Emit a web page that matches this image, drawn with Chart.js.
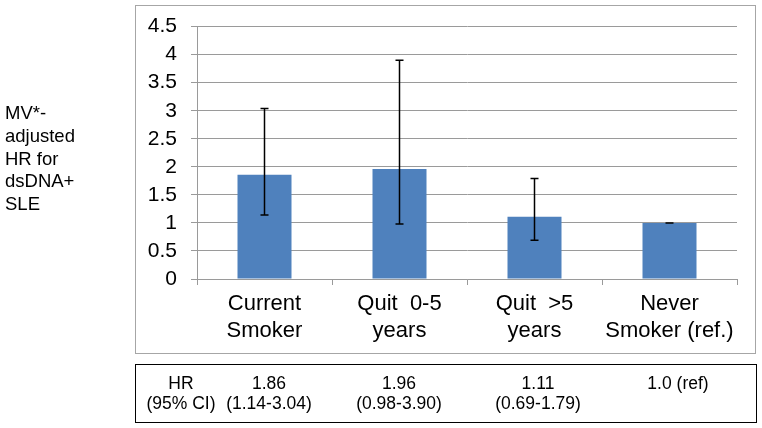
<!DOCTYPE html>
<html>
<head>
<meta charset="utf-8">
<script src="https://cdn.jsdelivr.net/npm/chart.js@4"></script>
<style>
  html, body { margin:0; padding:0; background:#fff; }
  #wrap { position:relative; width:762px; height:428px; font-family:"Liberation Sans", Arial, sans-serif; }
  #c { position:absolute; left:0; top:0; }
  #box { position:absolute; left:135px; top:5px; width:619px; height:347px; border:1px solid #a6a6a6; }
  #ytitle { position:absolute; left:5px; top:102px; font-size:18.5px; line-height:22.8px; color:#000; }
  #table { position:absolute; left:135px; top:364px; width:620px; height:57px; border:1.5px solid #000; }
  .cell { position:absolute; width:150px; margin-left:-75px; text-align:center; font-size:17.5px; line-height:20px; color:#000; white-space:pre; }
</style>
</head>
<body>
<div id="wrap">
  <div id="box"></div>
  <canvas id="c" width="762" height="428"></canvas>
  <div id="ytitle">MV*-<br>adjusted<br>HR for<br>dsDNA+<br>SLE</div>
  <div id="table"></div>
</div>
<script>
const categories = [['Current','Smoker'],['Quit  0-5','years'],['Quit  >5','years'],['Never','Smoker (ref.)']];
const hrValues = [1.86, 1.96, 1.11, 1.0];
const ciLow = [1.14, 0.98, 0.69, 1.0];
const ciHigh = [3.04, 3.90, 1.79, 1.0];
const yMin = 0, yMax = 4.5, yStep = 0.5;
const tableHeader = ['HR', '(95% CI)'];
const tableHR = ['1.86', '1.96', '1.11', '1.0 (ref)'];
const tableCI = ['(1.14-3.04)', '(0.98-3.90)', '(0.69-1.79)', ''];

// table (HTML text)
const tbl = document.getElementById('table');
const colX = [45, 133, 263, 402, 542];
const rows = [[tableHeader[0]].concat(tableHR), [tableHeader[1]].concat(tableCI)];
rows.forEach((row, r) => {
  row.forEach((txt, c) => {
    const d = document.createElement('div');
    d.className = 'cell';
    d.style.left = colX[c] + 'px';
    d.style.top = (8 + r * 20) + 'px';
    d.textContent = txt;
    tbl.appendChild(d);
  });
});

const errorBars = {
  id: 'errorBars',
  afterDatasetsDraw(chart) {
    const ctx = chart.ctx, y = chart.scales.y, meta = chart.getDatasetMeta(0);
    ctx.save();
    ctx.strokeStyle = '#000';
    ctx.lineWidth = 1.5;
    meta.data.forEach((bar, i) => {
      const x = bar.x;
      const yl = y.getPixelForValue(ciLow[i]);
      const yh = y.getPixelForValue(ciHigh[i]);
      ctx.beginPath();
      ctx.moveTo(x, yl); ctx.lineTo(x, yh);
      ctx.moveTo(x - 4, yl); ctx.lineTo(x + 4, yl);
      ctx.moveTo(x - 4, yh); ctx.lineTo(x + 4, yh);
      ctx.stroke();
    });
    ctx.restore();
  }
};

const gridColor = '#9a9a9a';
new Chart(document.getElementById('c'), {
  type: 'bar',
  data: {
    labels: categories,
    datasets: [{
      data: hrValues,
      backgroundColor: '#4f81bd',
      borderWidth: 0,
      barPercentage: 0.4,
      categoryPercentage: 1.0
    }]
  },
  options: {
    responsive: false,
    animation: false,
    devicePixelRatio: 1,
    layout: { padding: { left: 135, right: 25, top: 25, bottom: 79 } },
    plugins: { legend: { display: false }, tooltip: { enabled: false } },
    scales: {
      x: {
        afterFit: s => { s.height = 70; },
        grid: { display: true, drawOnChartArea: false, drawTicks: true, tickLength: 6, color: gridColor, offset: true },
        border: { display: true, color: gridColor, width: 1 },
        ticks: { color: '#000', font: { family: 'Liberation Sans', size: 22 }, padding: 6, maxRotation: 0, autoSkip: false }
      },
      y: {
        min: yMin, max: yMax,
        afterFit: s => { s.width = 62; },
        grid: { color: gridColor, lineWidth: 1, tickLength: 6, drawTicks: true },
        border: { display: true, color: gridColor, width: 1 },
        ticks: { stepSize: yStep, autoSkip: false, color: '#000', font: { family: 'Liberation Sans', size: 21 }, padding: 14, callback: v => String(v) }
      }
    }
  },
  plugins: [errorBars]
});
</script>
</body>
</html>
